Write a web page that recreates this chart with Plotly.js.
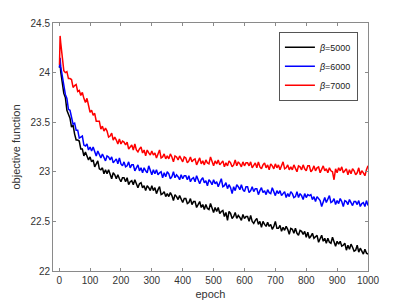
<!DOCTYPE html>
<html>
<head>
<meta charset="utf-8">
<script src="https://cdn.plot.ly/plotly-3.0.1.min.js"></script>
<style>html,body{margin:0;padding:0;background:#fff;}#chart{width:407px;height:305px;}</style>
</head>
<body>
<div id="chart"></div>
<script>
const epochs = [1,3,5,
10,15,20,25,30,35,40,45,50,55,60,65,70,75,80,85,90,95,100,105,
110,115,120,125,130,135,140,145,150,155,160,165,170,175,180,185,190,195,200,205,
210,215,220,225,230,235,240,245,250,255,260,265,270,275,280,285,290,295,300,305,
310,315,320,325,330,335,340,345,350,355,360,365,370,375,380,385,390,395,400,405,
410,415,420,425,430,435,440,445,450,455,460,465,470,475,480,485,490,495,500,505,
510,515,520,525,530,535,540,545,550,555,560,565,570,575,580,585,590,595,600,605,
610,615,620,625,630,635,640,645,650,655,660,665,670,675,680,685,690,695,700,705,
710,715,720,725,730,735,740,745,750,755,760,765,770,775,780,785,790,795,800,805,
810,815,820,825,830,835,840,845,850,855,860,865,870,875,880,885,890,895,900,905,
910,915,920,925,930,935,940,945,950,955,960,965,970,975,980,985,990,995,1000];

const seriesNames = ['<i>β</i>=5000', '<i>β</i>=6000', '<i>β</i>=7000'];

const beta5000 = [24.05,24.10,24.01,
23.92,23.79,23.75,23.62,23.58,23.54,23.45,23.47,23.38,23.32,23.32,23.31,23.23,23.23,23.16,23.20,23.16,23.12,23.15,23.10,
23.12,23.05,23.08,23.11,23.03,23.02,23.04,22.98,23.02,22.98,23.02,22.98,22.93,22.99,22.97,22.93,22.97,22.93,22.90,22.94,
22.94,22.90,22.94,22.87,22.90,22.91,22.87,22.92,22.87,22.84,22.88,22.89,22.84,22.86,22.81,22.86,22.84,22.81,22.86,22.81,
22.84,22.78,22.82,22.85,22.77,22.78,22.80,22.75,22.78,22.75,22.79,22.76,22.71,22.77,22.75,22.72,22.76,22.72,22.69,22.73,
22.73,22.68,22.69,22.73,22.67,22.70,22.70,22.64,22.67,22.70,22.64,22.67,22.62,22.67,22.63,22.62,22.68,22.64,22.59,22.64,
22.60,22.64,22.58,22.60,22.61,22.55,22.59,22.51,22.60,22.58,22.53,22.55,22.59,22.53,22.56,22.54,22.51,22.57,22.53,22.55,
22.55,22.50,22.56,22.50,22.48,22.51,22.53,22.47,22.50,22.44,22.50,22.47,22.45,22.49,22.45,22.47,22.42,22.45,22.50,22.43,
22.43,22.46,22.40,22.44,22.41,22.45,22.42,22.37,22.43,22.42,22.38,22.43,22.38,22.36,22.41,22.40,22.37,22.40,22.34,22.39,
22.33,22.35,22.38,22.33,22.35,22.36,22.29,22.33,22.36,22.30,22.33,22.28,22.33,22.29,22.28,22.34,22.30,22.25,22.30,22.27,
22.30,22.25,22.26,22.28,22.21,22.26,22.22,22.27,22.24,22.20,22.21,22.26,22.19,22.23,22.20,22.17,22.22,22.18,22.17];

const beta6000 = [24.05,24.15,24.06,
23.96,23.90,23.78,23.74,23.63,23.62,23.55,23.48,23.49,23.42,23.42,23.34,23.35,23.36,23.27,23.26,23.28,23.22,23.25,23.21,
23.25,23.21,23.16,23.21,23.18,23.14,23.18,23.14,23.11,23.16,23.15,23.12,23.15,23.09,23.11,23.13,23.08,23.14,23.08,23.06,
23.10,23.05,23.06,23.10,23.04,23.07,23.07,23.01,23.04,23.07,23.01,23.04,22.99,23.04,23.01,22.99,23.06,23.02,22.97,23.02,
22.98,23.02,22.97,22.99,23.00,22.94,22.99,22.95,23.00,22.98,22.93,22.95,23.00,22.94,22.97,22.95,22.92,22.97,22.93,22.96,
22.96,22.92,22.96,22.90,22.93,22.94,22.90,22.96,22.91,22.88,22.92,22.94,22.89,22.91,22.86,22.92,22.90,22.87,22.92,22.88,
22.90,22.85,22.89,22.93,22.85,22.86,22.89,22.83,22.87,22.84,22.78,22.85,22.81,22.87,22.85,22.82,22.87,22.82,22.80,22.85,
22.85,22.79,22.81,22.85,22.80,22.83,22.83,22.77,22.81,22.84,22.79,22.81,22.77,22.82,22.79,22.78,22.84,22.80,22.76,22.81,
22.78,22.81,22.76,22.78,22.80,22.74,22.78,22.75,22.80,22.78,22.74,22.75,22.80,22.74,22.78,22.76,22.72,22.78,22.74,22.77,
22.76,22.77,22.72,22.75,22.70,22.75,22.73,22.71,22.65,22.71,22.74,22.69,22.73,22.76,22.69,22.70,22.73,22.67,22.71,22.68,
22.73,22.70,22.65,22.71,22.70,22.67,22.72,22.68,22.66,22.70,22.70,22.67,22.71,22.65,22.68,22.69,22.65,22.71,22.66];

const beta7000 = [24.08,24.37,24.30,
24.14,24.02,24.00,24.01,23.94,23.94,23.93,23.85,23.87,23.88,23.81,23.82,23.77,23.80,23.74,23.70,23.74,23.67,23.60,23.62,
23.57,23.59,23.51,23.51,23.51,23.43,23.46,23.41,23.44,23.41,23.35,23.36,23.39,23.32,23.35,23.32,23.28,23.33,23.28,23.31,
23.30,23.27,23.30,23.23,23.25,23.27,23.22,23.28,23.22,23.20,23.23,23.25,23.19,23.22,23.16,23.22,23.19,23.17,23.21,23.17,
23.19,23.14,23.18,23.22,23.14,23.15,23.18,23.13,23.16,23.13,23.18,23.15,23.10,23.16,23.15,23.12,23.16,23.12,23.10,23.15,
23.14,23.09,23.11,23.15,23.10,23.12,23.13,23.07,23.11,23.14,23.08,23.11,23.07,23.12,23.09,23.08,23.15,23.10,23.06,23.11,
23.08,23.12,23.07,23.09,23.11,23.05,23.09,23.06,23.11,23.09,23.05,23.07,23.12,23.06,23.10,23.08,23.05,23.10,23.06,23.09,
23.09,23.06,23.10,23.04,23.07,23.09,23.04,23.10,23.05,23.03,23.07,23.09,23.04,23.07,23.02,23.08,23.06,23.03,23.08,23.04,
23.07,23.02,23.06,23.10,23.03,23.04,23.07,23.02,23.05,23.02,23.07,23.04,23.00,23.06,23.05,23.02,23.07,23.03,23.01,23.06,
23.06,23.00,23.02,23.06,23.01,23.04,23.05,22.99,23.03,23.06,23.01,23.03,22.99,23.04,23.01,23.00,22.92,23.03,22.99,23.04,
23.01,23.05,22.99,23.01,23.03,22.97,23.02,22.98,23.03,23.01,22.97,22.99,23.04,22.97,23.01,22.99,22.96,23.02,23.06];

const colors = ['#000000', '#0000ff', '#ff0000'];
const allSeries = [beta5000, beta6000, beta7000];

const traces = allSeries.map((ys, i) => ({
  x: epochs,
  y: ys,
  type: 'scatter',
  mode: 'lines',
  name: seriesNames[i],
  line: {color: colors[i], width: 1.5}
}));

const fontFam = 'Liberation Sans, Arial, sans-serif';

const axisCommon = {
  showline: true,
  linecolor: '#8a8a8a',
  linewidth: 1,
  mirror: 'ticks',
  ticks: 'inside',
  ticklen: 3,
  tickcolor: '#8a8a8a',
  showgrid: false,
  zeroline: false,
  tickfont: {family: fontFam, size: 10, color: '#333333'}
};

const layout = {
  width: 407,
  height: 305,
  margin: {l: 53, r: 39, t: 23, b: 34},
  paper_bgcolor: '#ffffff',
  plot_bgcolor: '#ffffff',
  showlegend: true,
  legend: {
    x: 0.968, y: 0.965, xanchor: 'right', yanchor: 'top',
    bgcolor: '#ffffff', bordercolor: '#555555', borderwidth: 1,
    font: {family: fontFam, size: 9, color: '#222222'},
    tracegroupgap: 0, itemwidth: 30
  },
  xaxis: Object.assign({}, axisCommon, {
    range: [-20, 1000],
    tickvals: [0,100,200,300,400,500,600,700,800,900,1000],
    title: {text: 'epoch', font: {family: fontFam, size: 11, color: '#333333'}, standoff: 5}
  }),
  yaxis: Object.assign({}, axisCommon, {
    range: [22, 24.5],
    dtick: 0.5,
    tick0: 22,
    title: {text: 'objective function', font: {family: fontFam, size: 11, color: '#333333'}, standoff: 7}
  })
};

Plotly.newPlot('chart', traces, layout, {displayModeBar: false, staticPlot: true});
</script>
</body>
</html>
